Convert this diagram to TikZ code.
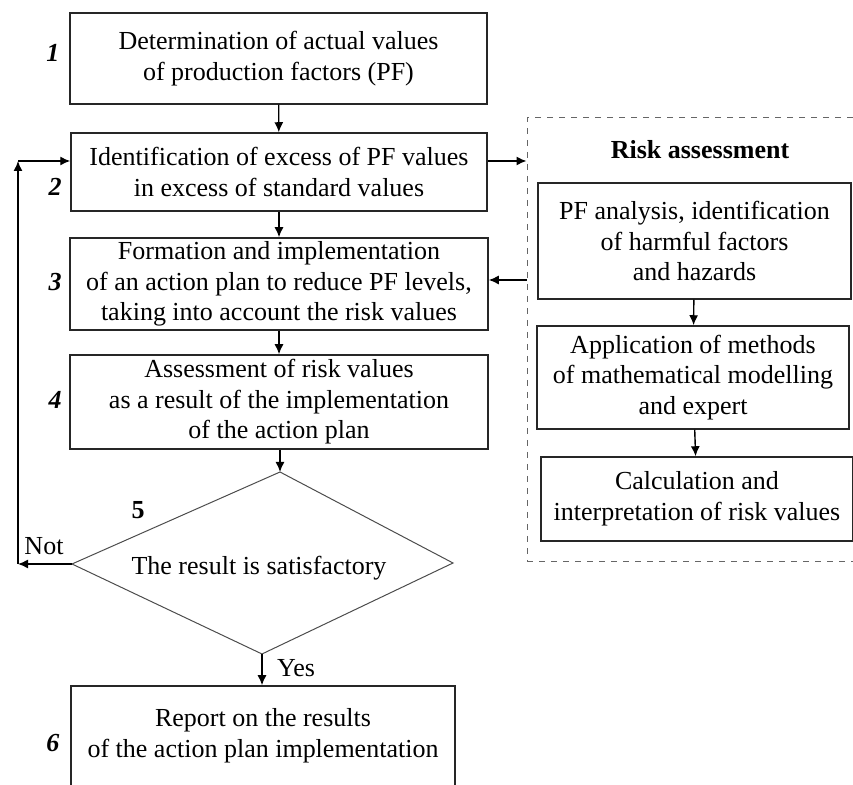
\documentclass[tikz,border=0pt]{standalone}
\usepackage{fontspec}
\setmainfont{Liberation Serif}
\usetikzlibrary{arrows.meta}

\begin{document}
\begin{tikzpicture}[x=0.5pt, y=-0.5pt,
  box/.style={draw=black!85, line width=0.75pt, align=center, inner sep=0pt,
    font=\fontsize{13}{15.3}\selectfont},
  numlbl/.style={font=\fontsize{13}{15}\selectfont\bfseries\itshape},
  arr/.style={-{Latex[length=5pt,width=4.5pt]}, line width=0.7pt}]
\useasboundingbox (0,0) rectangle (853,785);

% Main chain
\node[box, minimum width=208.5pt, minimum height=45.5pt] (b1) at (278.5,58.5)
  {Determination of actual values\\of production factors (PF)};
\node[box, minimum width=208pt, minimum height=39pt] (b2) at (279,172)
  {Identification of excess of PF values\\in excess of standard values};
\node[box, minimum width=209pt, minimum height=46pt] (b3) at (279,284)
  {Formation and implementation\\of an action plan to reduce PF levels,\\taking into account the risk values};
\node[box, minimum width=209pt, minimum height=47pt] (b4) at (279,402)
  {Assessment of risk values\\as a result of the implementation\\of the action plan};

% Decision
\coordinate (dtop) at (280,472);
\coordinate (dright) at (453,563);
\coordinate (dbot) at (262,654);
\coordinate (dleft) at (72,564);
\draw[black!70, line width=0.5pt] (dtop) -- (dright) -- (dbot) -- (dleft) -- cycle;
\node[font=\fontsize{13}{15}\selectfont] (dtext) at (259,568) {The result is satisfactory};

\node[box, minimum width=192pt, minimum height=50pt] (b6) at (263,736)
  {Report on the results\\of the action plan implementation};

% Risk assessment block
\node[draw=black!60, dashed, line width=0.5pt, minimum width=171.5pt, minimum height=222pt] (risk) at (698.5,340) {};
\node[font=\fontsize{13}{15}\selectfont\bfseries] (risktitle) at (700,150) {Risk assessment};
\node[box, minimum width=156.5pt, minimum height=58pt] (ra) at (694.5,241)
  {PF analysis, identification\\of harmful factors\\and hazards};
\node[box, minimum width=156pt, minimum height=51.5pt] (rb) at (693,377.5)
  {Application of methods\\of mathematical modelling\\and expert};
\node[box, minimum width=156pt, minimum height=42pt] (rc) at (697,499)
  {Calculation and\\interpretation of risk values};

% Numbers
\node[numlbl] (n1) at (53,53) {1};
\node[numlbl] (n2) at (55,187) {2};
\node[numlbl] (n3) at (55,282) {3};
\node[numlbl] (n4) at (55,400) {4};
\node[font=\fontsize{13}{15}\selectfont\bfseries] (n5) at (138,510) {5};
\node[numlbl] (n6) at (53,743) {6};

% Labels
\node[font=\fontsize{13}{15}\selectfont] (notlbl) at (44,546) {Not};
\node[font=\fontsize{13}{15}\selectfont] (yeslbl) at (296,668) {Yes};

% Feedback loop
\coordinate (notc) at (18,564);
\coordinate (upc) at (18,161);
\draw[arr] (dleft) -- (notc);
\draw[arr] (notc) -- (upc);
\draw[arr] (upc) -- (upc -| b2.west);

% Arrows
\draw[arr] (b1) -- (b2);
\draw[arr] (b2) -- (b3);
\draw[arr] (b3) -- (b4);
\draw[arr] (b4.south -| dtop) -- (dtop);
\draw[arr] (dbot) -- (dbot |- b6.north);
\draw[arr] (ra) -- (rb);
\draw[arr] (rb) -- (rc);
\draw[arr] (upc -| b2.east) -- (upc -| risk.west);
\draw[arr] ([yshift=2pt]risk.west |- b3.east) -- ([yshift=2pt]b3.east);
\end{tikzpicture}
\end{document}
